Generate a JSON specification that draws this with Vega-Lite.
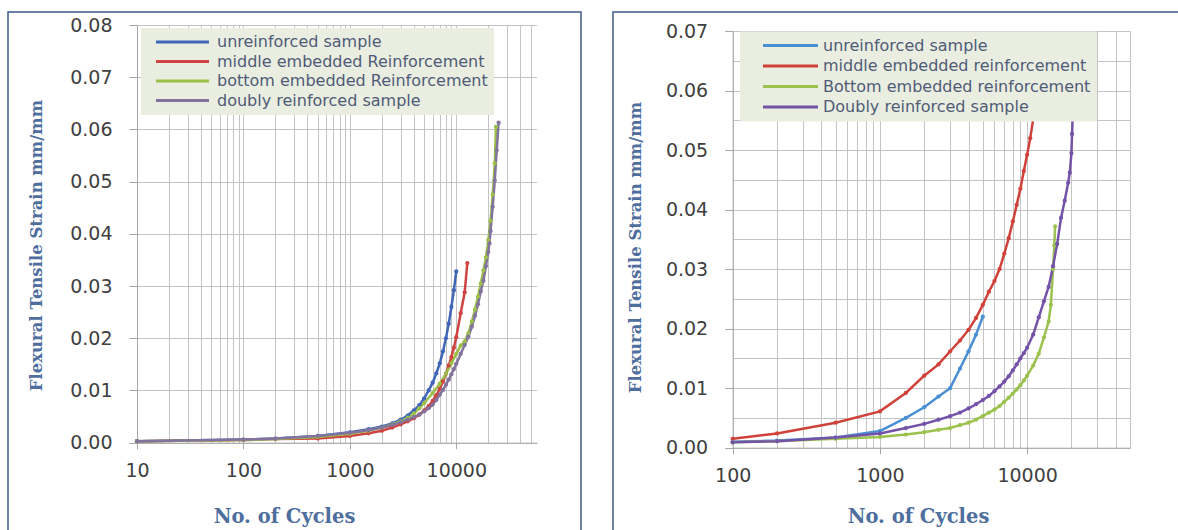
{
  "$schema": "https://vega.github.io/schema/vega-lite/v6.json",
  "autosize": {"type": "pad"},
  "padding": {"left": 7, "top": 11, "right": 0, "bottom": 0},
  "background": "white",
  "bounds": "flush",
  "spacing": 32,
  "config": {
    "view": {"stroke": "#3E5A8A", "strokeWidth": 1.5},
    "axis": {
      "labelFont": "DejaVu Sans", "labelFontSize": 19, "labelColor": "#404040",
      "titleFont": "DejaVu Serif", "titleFontSize": 18, "titleColor": "#4E6E9E", "titleFontWeight": "bold",
      "gridColor": "#C4C4C4", "gridWidth": 1, "domainColor": "#A6A6A6", "tickColor": "#A6A6A6",
      "labelOverlap": false, "labelFlush": false, "labelBound": false
    },
    "legend": {
      "title": null, "labelFont": "DejaVu Sans", "labelFontSize": 16, "labelColor": "#4F5B78",
      "fillColor": "#EAEEE0", "padding": 6, "rowPadding": 3.5, "symbolSize": 100, "symbolStrokeWidth": 3, "labelLimit": 400
    }
  },
  "resolve": {
    "scale": {"x": "independent", "y": "independent", "color": "independent"},
    "legend": {"color": "independent"}
  },
  "datasets": {
    "left": [
      {"series": "unreinforced sample", "n": 10, "s": 0.0003},
      {"series": "unreinforced sample", "n": 100, "s": 0.0006},
      {"series": "unreinforced sample", "n": 200, "s": 0.0008},
      {"series": "unreinforced sample", "n": 500, "s": 0.0013},
      {"series": "unreinforced sample", "n": 1000, "s": 0.0020},
      {"series": "unreinforced sample", "n": 1500, "s": 0.0026},
      {"series": "unreinforced sample", "n": 2000, "s": 0.0031},
      {"series": "unreinforced sample", "n": 2500, "s": 0.0037},
      {"series": "unreinforced sample", "n": 3000, "s": 0.0044},
      {"series": "unreinforced sample", "n": 3500, "s": 0.0052},
      {"series": "unreinforced sample", "n": 4000, "s": 0.0062},
      {"series": "unreinforced sample", "n": 4500, "s": 0.0072},
      {"series": "unreinforced sample", "n": 5000, "s": 0.0085},
      {"series": "unreinforced sample", "n": 5500, "s": 0.0100},
      {"series": "unreinforced sample", "n": 6000, "s": 0.0115},
      {"series": "unreinforced sample", "n": 6500, "s": 0.0133},
      {"series": "unreinforced sample", "n": 7000, "s": 0.0152},
      {"series": "unreinforced sample", "n": 7500, "s": 0.0175},
      {"series": "unreinforced sample", "n": 8000, "s": 0.0200},
      {"series": "unreinforced sample", "n": 8500, "s": 0.0228},
      {"series": "unreinforced sample", "n": 9000, "s": 0.0260},
      {"series": "unreinforced sample", "n": 9500, "s": 0.0292},
      {"series": "unreinforced sample", "n": 10000, "s": 0.0328},
      {"series": "middle embedded Reinforcement", "n": 10, "s": 0.0003},
      {"series": "middle embedded Reinforcement", "n": 100, "s": 0.0005},
      {"series": "middle embedded Reinforcement", "n": 200, "s": 0.0007},
      {"series": "middle embedded Reinforcement", "n": 500, "s": 0.0008},
      {"series": "middle embedded Reinforcement", "n": 1000, "s": 0.0013},
      {"series": "middle embedded Reinforcement", "n": 1500, "s": 0.0018},
      {"series": "middle embedded Reinforcement", "n": 2000, "s": 0.0023},
      {"series": "middle embedded Reinforcement", "n": 2500, "s": 0.0029},
      {"series": "middle embedded Reinforcement", "n": 3000, "s": 0.0035},
      {"series": "middle embedded Reinforcement", "n": 3500, "s": 0.0041},
      {"series": "middle embedded Reinforcement", "n": 4000, "s": 0.0047},
      {"series": "middle embedded Reinforcement", "n": 4500, "s": 0.0054},
      {"series": "middle embedded Reinforcement", "n": 5000, "s": 0.0062},
      {"series": "middle embedded Reinforcement", "n": 5500, "s": 0.0070},
      {"series": "middle embedded Reinforcement", "n": 6000, "s": 0.0080},
      {"series": "middle embedded Reinforcement", "n": 6500, "s": 0.0091},
      {"series": "middle embedded Reinforcement", "n": 7000, "s": 0.0103},
      {"series": "middle embedded Reinforcement", "n": 7500, "s": 0.0117},
      {"series": "middle embedded Reinforcement", "n": 8000, "s": 0.0132},
      {"series": "middle embedded Reinforcement", "n": 8500, "s": 0.0148},
      {"series": "middle embedded Reinforcement", "n": 9000, "s": 0.0164},
      {"series": "middle embedded Reinforcement", "n": 9500, "s": 0.0182},
      {"series": "middle embedded Reinforcement", "n": 10000, "s": 0.0202},
      {"series": "middle embedded Reinforcement", "n": 11000, "s": 0.0248},
      {"series": "middle embedded Reinforcement", "n": 12000, "s": 0.0288},
      {"series": "middle embedded Reinforcement", "n": 12700, "s": 0.0344},
      {"series": "bottom embedded Reinforcement", "n": 10, "s": 0.0003},
      {"series": "bottom embedded Reinforcement", "n": 100, "s": 0.0005},
      {"series": "bottom embedded Reinforcement", "n": 200, "s": 0.0007},
      {"series": "bottom embedded Reinforcement", "n": 500, "s": 0.0011},
      {"series": "bottom embedded Reinforcement", "n": 1000, "s": 0.0017},
      {"series": "bottom embedded Reinforcement", "n": 1500, "s": 0.0023},
      {"series": "bottom embedded Reinforcement", "n": 2000, "s": 0.0029},
      {"series": "bottom embedded Reinforcement", "n": 2500, "s": 0.0035},
      {"series": "bottom embedded Reinforcement", "n": 3000, "s": 0.0041},
      {"series": "bottom embedded Reinforcement", "n": 3500, "s": 0.0048},
      {"series": "bottom embedded Reinforcement", "n": 4000, "s": 0.0056},
      {"series": "bottom embedded Reinforcement", "n": 4500, "s": 0.0066},
      {"series": "bottom embedded Reinforcement", "n": 5000, "s": 0.0076},
      {"series": "bottom embedded Reinforcement", "n": 6000, "s": 0.0095},
      {"series": "bottom embedded Reinforcement", "n": 7000, "s": 0.0113},
      {"series": "bottom embedded Reinforcement", "n": 8000, "s": 0.0132},
      {"series": "bottom embedded Reinforcement", "n": 9000, "s": 0.0152},
      {"series": "bottom embedded Reinforcement", "n": 10000, "s": 0.0170},
      {"series": "bottom embedded Reinforcement", "n": 11000, "s": 0.0186},
      {"series": "bottom embedded Reinforcement", "n": 12000, "s": 0.0194},
      {"series": "bottom embedded Reinforcement", "n": 13000, "s": 0.0210},
      {"series": "bottom embedded Reinforcement", "n": 14000, "s": 0.0232},
      {"series": "bottom embedded Reinforcement", "n": 15000, "s": 0.0255},
      {"series": "bottom embedded Reinforcement", "n": 16000, "s": 0.0280},
      {"series": "bottom embedded Reinforcement", "n": 17000, "s": 0.0305},
      {"series": "bottom embedded Reinforcement", "n": 18000, "s": 0.0330},
      {"series": "bottom embedded Reinforcement", "n": 19000, "s": 0.0355},
      {"series": "bottom embedded Reinforcement", "n": 20000, "s": 0.0388},
      {"series": "bottom embedded Reinforcement", "n": 21000, "s": 0.0425},
      {"series": "bottom embedded Reinforcement", "n": 22000, "s": 0.0475},
      {"series": "bottom embedded Reinforcement", "n": 23000, "s": 0.0535},
      {"series": "bottom embedded Reinforcement", "n": 23600, "s": 0.0605},
      {"series": "doubly reinforced sample", "n": 10, "s": 0.0003},
      {"series": "doubly reinforced sample", "n": 100, "s": 0.0006},
      {"series": "doubly reinforced sample", "n": 200, "s": 0.0008},
      {"series": "doubly reinforced sample", "n": 500, "s": 0.0013},
      {"series": "doubly reinforced sample", "n": 1000, "s": 0.0019},
      {"series": "doubly reinforced sample", "n": 1500, "s": 0.0024},
      {"series": "doubly reinforced sample", "n": 2000, "s": 0.0029},
      {"series": "doubly reinforced sample", "n": 2500, "s": 0.0034},
      {"series": "doubly reinforced sample", "n": 3000, "s": 0.0039},
      {"series": "doubly reinforced sample", "n": 3500, "s": 0.0044},
      {"series": "doubly reinforced sample", "n": 4000, "s": 0.0049},
      {"series": "doubly reinforced sample", "n": 4500, "s": 0.0054},
      {"series": "doubly reinforced sample", "n": 5000, "s": 0.0060},
      {"series": "doubly reinforced sample", "n": 5500, "s": 0.0066},
      {"series": "doubly reinforced sample", "n": 6000, "s": 0.0073},
      {"series": "doubly reinforced sample", "n": 6500, "s": 0.0082},
      {"series": "doubly reinforced sample", "n": 7000, "s": 0.0092},
      {"series": "doubly reinforced sample", "n": 7500, "s": 0.0101},
      {"series": "doubly reinforced sample", "n": 8000, "s": 0.0111},
      {"series": "doubly reinforced sample", "n": 8500, "s": 0.0121},
      {"series": "doubly reinforced sample", "n": 9000, "s": 0.0131},
      {"series": "doubly reinforced sample", "n": 9500, "s": 0.0141},
      {"series": "doubly reinforced sample", "n": 10000, "s": 0.0151},
      {"series": "doubly reinforced sample", "n": 11000, "s": 0.0170},
      {"series": "doubly reinforced sample", "n": 12000, "s": 0.0187},
      {"series": "doubly reinforced sample", "n": 13000, "s": 0.0203},
      {"series": "doubly reinforced sample", "n": 14000, "s": 0.0222},
      {"series": "doubly reinforced sample", "n": 15000, "s": 0.0243},
      {"series": "doubly reinforced sample", "n": 16000, "s": 0.0265},
      {"series": "doubly reinforced sample", "n": 17000, "s": 0.0290},
      {"series": "doubly reinforced sample", "n": 18000, "s": 0.0310},
      {"series": "doubly reinforced sample", "n": 19000, "s": 0.0338},
      {"series": "doubly reinforced sample", "n": 20000, "s": 0.0365},
      {"series": "doubly reinforced sample", "n": 20500, "s": 0.0382},
      {"series": "doubly reinforced sample", "n": 21000, "s": 0.0405},
      {"series": "doubly reinforced sample", "n": 22000, "s": 0.0452},
      {"series": "doubly reinforced sample", "n": 23000, "s": 0.0502},
      {"series": "doubly reinforced sample", "n": 24000, "s": 0.0560},
      {"series": "doubly reinforced sample", "n": 25000, "s": 0.0613}
    ],
    "right": [
      {"series": "unreinforced sample", "n": 100, "s": 0.0010},
      {"series": "unreinforced sample", "n": 200, "s": 0.0012},
      {"series": "unreinforced sample", "n": 500, "s": 0.0017},
      {"series": "unreinforced sample", "n": 1000, "s": 0.0028},
      {"series": "unreinforced sample", "n": 1500, "s": 0.0050},
      {"series": "unreinforced sample", "n": 2000, "s": 0.0068},
      {"series": "unreinforced sample", "n": 2500, "s": 0.0086},
      {"series": "unreinforced sample", "n": 3000, "s": 0.0100},
      {"series": "unreinforced sample", "n": 3500, "s": 0.0133},
      {"series": "unreinforced sample", "n": 4000, "s": 0.0162},
      {"series": "unreinforced sample", "n": 4500, "s": 0.0190},
      {"series": "unreinforced sample", "n": 5000, "s": 0.0220},
      {"series": "middle embedded reinforcement", "n": 100, "s": 0.0015},
      {"series": "middle embedded reinforcement", "n": 200, "s": 0.0024},
      {"series": "middle embedded reinforcement", "n": 500, "s": 0.0042},
      {"series": "middle embedded reinforcement", "n": 1000, "s": 0.0061},
      {"series": "middle embedded reinforcement", "n": 1500, "s": 0.0092},
      {"series": "middle embedded reinforcement", "n": 2000, "s": 0.0121},
      {"series": "middle embedded reinforcement", "n": 2500, "s": 0.0140},
      {"series": "middle embedded reinforcement", "n": 3000, "s": 0.0162},
      {"series": "middle embedded reinforcement", "n": 3500, "s": 0.0180},
      {"series": "middle embedded reinforcement", "n": 4000, "s": 0.0198},
      {"series": "middle embedded reinforcement", "n": 4500, "s": 0.0218},
      {"series": "middle embedded reinforcement", "n": 5000, "s": 0.0240},
      {"series": "middle embedded reinforcement", "n": 5500, "s": 0.0262},
      {"series": "middle embedded reinforcement", "n": 6000, "s": 0.0280},
      {"series": "middle embedded reinforcement", "n": 6500, "s": 0.0300},
      {"series": "middle embedded reinforcement", "n": 7000, "s": 0.0326},
      {"series": "middle embedded reinforcement", "n": 7500, "s": 0.0352},
      {"series": "middle embedded reinforcement", "n": 8000, "s": 0.0380},
      {"series": "middle embedded reinforcement", "n": 8500, "s": 0.0408},
      {"series": "middle embedded reinforcement", "n": 9000, "s": 0.0435},
      {"series": "middle embedded reinforcement", "n": 9500, "s": 0.0465},
      {"series": "middle embedded reinforcement", "n": 10000, "s": 0.0492},
      {"series": "middle embedded reinforcement", "n": 10500, "s": 0.0520},
      {"series": "middle embedded reinforcement", "n": 11000, "s": 0.0552},
      {"series": "Bottom embedded reinforcement", "n": 100, "s": 0.0009},
      {"series": "Bottom embedded reinforcement", "n": 200, "s": 0.0011},
      {"series": "Bottom embedded reinforcement", "n": 500, "s": 0.0015},
      {"series": "Bottom embedded reinforcement", "n": 1000, "s": 0.0018},
      {"series": "Bottom embedded reinforcement", "n": 1500, "s": 0.0022},
      {"series": "Bottom embedded reinforcement", "n": 2000, "s": 0.0026},
      {"series": "Bottom embedded reinforcement", "n": 2500, "s": 0.0030},
      {"series": "Bottom embedded reinforcement", "n": 3000, "s": 0.0033},
      {"series": "Bottom embedded reinforcement", "n": 3500, "s": 0.0038},
      {"series": "Bottom embedded reinforcement", "n": 4000, "s": 0.0042},
      {"series": "Bottom embedded reinforcement", "n": 4500, "s": 0.0047},
      {"series": "Bottom embedded reinforcement", "n": 5000, "s": 0.0053},
      {"series": "Bottom embedded reinforcement", "n": 5500, "s": 0.0059},
      {"series": "Bottom embedded reinforcement", "n": 6000, "s": 0.0064},
      {"series": "Bottom embedded reinforcement", "n": 6500, "s": 0.0070},
      {"series": "Bottom embedded reinforcement", "n": 7000, "s": 0.0077},
      {"series": "Bottom embedded reinforcement", "n": 7500, "s": 0.0084},
      {"series": "Bottom embedded reinforcement", "n": 8000, "s": 0.0091},
      {"series": "Bottom embedded reinforcement", "n": 8500, "s": 0.0098},
      {"series": "Bottom embedded reinforcement", "n": 9000, "s": 0.0105},
      {"series": "Bottom embedded reinforcement", "n": 9500, "s": 0.0113},
      {"series": "Bottom embedded reinforcement", "n": 10000, "s": 0.0121},
      {"series": "Bottom embedded reinforcement", "n": 11000, "s": 0.0138},
      {"series": "Bottom embedded reinforcement", "n": 12000, "s": 0.0158},
      {"series": "Bottom embedded reinforcement", "n": 13000, "s": 0.0185},
      {"series": "Bottom embedded reinforcement", "n": 14000, "s": 0.0212},
      {"series": "Bottom embedded reinforcement", "n": 14500, "s": 0.0240},
      {"series": "Bottom embedded reinforcement", "n": 15000, "s": 0.0300},
      {"series": "Bottom embedded reinforcement", "n": 15300, "s": 0.0340},
      {"series": "Bottom embedded reinforcement", "n": 15500, "s": 0.0372},
      {"series": "Doubly reinforced sample", "n": 100, "s": 0.0009},
      {"series": "Doubly reinforced sample", "n": 200, "s": 0.0011},
      {"series": "Doubly reinforced sample", "n": 500, "s": 0.0017},
      {"series": "Doubly reinforced sample", "n": 1000, "s": 0.0024},
      {"series": "Doubly reinforced sample", "n": 1500, "s": 0.0033},
      {"series": "Doubly reinforced sample", "n": 2000, "s": 0.0040},
      {"series": "Doubly reinforced sample", "n": 2500, "s": 0.0047},
      {"series": "Doubly reinforced sample", "n": 3000, "s": 0.0053},
      {"series": "Doubly reinforced sample", "n": 3500, "s": 0.0059},
      {"series": "Doubly reinforced sample", "n": 4000, "s": 0.0066},
      {"series": "Doubly reinforced sample", "n": 4500, "s": 0.0073},
      {"series": "Doubly reinforced sample", "n": 5000, "s": 0.0080},
      {"series": "Doubly reinforced sample", "n": 5500, "s": 0.0087},
      {"series": "Doubly reinforced sample", "n": 6000, "s": 0.0095},
      {"series": "Doubly reinforced sample", "n": 6500, "s": 0.0103},
      {"series": "Doubly reinforced sample", "n": 7000, "s": 0.0111},
      {"series": "Doubly reinforced sample", "n": 7500, "s": 0.0120},
      {"series": "Doubly reinforced sample", "n": 8000, "s": 0.0130},
      {"series": "Doubly reinforced sample", "n": 8500, "s": 0.0140},
      {"series": "Doubly reinforced sample", "n": 9000, "s": 0.0150},
      {"series": "Doubly reinforced sample", "n": 9500, "s": 0.0159},
      {"series": "Doubly reinforced sample", "n": 10000, "s": 0.0168},
      {"series": "Doubly reinforced sample", "n": 11000, "s": 0.0190},
      {"series": "Doubly reinforced sample", "n": 12000, "s": 0.0219},
      {"series": "Doubly reinforced sample", "n": 13000, "s": 0.0246},
      {"series": "Doubly reinforced sample", "n": 14000, "s": 0.0270},
      {"series": "Doubly reinforced sample", "n": 15000, "s": 0.0305},
      {"series": "Doubly reinforced sample", "n": 16000, "s": 0.0342},
      {"series": "Doubly reinforced sample", "n": 17000, "s": 0.0386},
      {"series": "Doubly reinforced sample", "n": 18000, "s": 0.0415},
      {"series": "Doubly reinforced sample", "n": 19000, "s": 0.0445},
      {"series": "Doubly reinforced sample", "n": 19500, "s": 0.0462},
      {"series": "Doubly reinforced sample", "n": 20000, "s": 0.0495},
      {"series": "Doubly reinforced sample", "n": 20200, "s": 0.0527},
      {"series": "Doubly reinforced sample", "n": 20400, "s": 0.0556}
    ]
  },
  "hconcat": [
    {
      "width": 573,
      "height": 519,
      "data": {"name": "left"},
      "encoding": {
        "y": {
          "field": "s", "type": "quantitative",
          "scale": {"domain": [0, 0.08], "range": [430.7, 13], "nice": false, "zero": false},
          "axis": {
            "orient": "left", "grid": true,
            "title": "Flexural Tensile Strain mm/mm",
            "values": [0, 0.01, 0.02, 0.03, 0.04, 0.05, 0.06, 0.07, 0.08],
            "format": ".2f",
            "offset": -129,
            "tickSize": 8,
            "labelPadding": 17,
            "titleFontSize": 16.5,
            "titleX": -101, "titleY": 233, "titleBaseline": "middle", "titleAlign": "center", "titleAngle": 270
          }
        },
        "color": {
          "field": "series", "type": "nominal",
          "scale": {
            "domain": ["unreinforced sample", "middle embedded Reinforcement", "bottom embedded Reinforcement", "doubly reinforced sample"],
            "range": ["#3F66B8", "#CF4440", "#9CBF4A", "#82739E"]
          },
          "legend": {
            "orient": "none", "legendX": 133, "legendY": 16,
            "symbolType": "M0.2,0H10.8", "labelOffset": 54
          }
        }
      },
      "layer": [
        {
          "mark": {"type": "line", "strokeWidth": 2.5},
          "encoding": {
            "x": {
              "field": "n", "type": "quantitative",
              "scale": {"type": "log", "domain": [10, 57000], "range": [129, 528.7], "nice": false},
              "axis": {
                "orient": "top", "grid": true, "labels": false, "ticks": false, "domain": false, "title": null,
                "values": [10,20,30,40,50,60,70,80,90,100,200,300,400,500,600,700,800,900,1000,2000,3000,4000,5000,6000,7000,8000,9000,10000,20000,30000,40000,50000]
              }
            }
          }
        },
        {
          "mark": {"type": "point", "filled": true, "size": 18, "opacity": 1},
          "encoding": {
            "x": {
              "field": "n", "type": "quantitative",
              "axis": {
                "orient": "bottom", "grid": false,
                "title": "No. of Cycles",
                "values": [10,20,30,40,50,60,70,80,90,100,200,300,400,500,600,700,800,900,1000,2000,3000,4000,5000,6000,7000,8000,9000,10000,20000,30000,40000,50000],
                "labelExpr": "indexof([10,100,1000,10000], datum.value) >= 0 ? format(datum.value, 'd') : ''",
                "offset": -88.3,
                "tickSize": 6,
                "tickOpacity": {"condition": {"test": "indexof([10,100,1000,10000], datum.value) >= 0", "value": 1}, "value": 0},
                "labelPadding": 13,
                "titleFontSize": 19.5,
                "titleX": 276, "titleY": 74, "titleBaseline": "middle", "titleAlign": "center"
              }
            }
          }
        }
      ],
      "resolve": {"axis": {"x": "independent"}}
    },
    {
      "width": 566,
      "height": 519,
      "data": {"name": "right"},
      "encoding": {
        "y": {
          "field": "s", "type": "quantitative",
          "scale": {"domain": [0, 0.07], "range": [435.7, 19], "nice": false, "zero": false},
          "axis": {
            "orient": "left", "grid": true,
            "title": "Flexural Tensile Strain mm/mm",
            "values": [0, 0.005, 0.01, 0.015, 0.02, 0.025, 0.03, 0.035, 0.04, 0.045, 0.05, 0.055, 0.06, 0.065, 0.07],
            "labelExpr": "round(datum.value * 1000) % 10 == 0 ? format(datum.value, '.2f') : ''",
            "tickOpacity": {"condition": {"test": "round(datum.value * 1000) % 10 == 0", "value": 1}, "value": 0},
            "offset": -119.7,
            "tickSize": 8,
            "labelPadding": 17,
            "titleFontSize": 16.5,
            "titleX": -97, "titleY": 235, "titleBaseline": "middle", "titleAlign": "center", "titleAngle": 270
          }
        },
        "color": {
          "field": "series", "type": "nominal",
          "scale": {
            "domain": ["unreinforced sample", "middle embedded reinforcement", "Bottom embedded reinforcement", "Doubly reinforced sample"],
            "range": ["#4A8FD4", "#D0413A", "#9BC24E", "#7452A8"]
          },
          "legend": {
            "orient": "none", "legendX": 127, "legendY": 19.5,
            "symbolType": "M1.8,0H12.8", "labelOffset": 61, "rowPadding": 4.5
          }
        }
      },
      "layer": [
        {
          "mark": {"type": "line", "strokeWidth": 2.5},
          "encoding": {
            "x": {
              "field": "n", "type": "quantitative",
              "scale": {"type": "log", "domain": [100, 50000], "range": [119.7, 517], "nice": false},
              "axis": {
                "orient": "top", "grid": true, "labels": false, "ticks": false, "domain": false, "title": null,
                "values": [100,200,300,400,500,600,700,800,900,1000,2000,3000,4000,5000,6000,7000,8000,9000,10000,20000,30000,40000,50000]
              }
            }
          }
        },
        {
          "mark": {"type": "point", "filled": true, "size": 18, "opacity": 1},
          "encoding": {
            "x": {
              "field": "n", "type": "quantitative",
              "axis": {
                "orient": "bottom", "grid": false,
                "title": "No. of Cycles",
                "values": [100,200,300,400,500,600,700,800,900,1000,2000,3000,4000,5000,6000,7000,8000,9000,10000,20000,30000,40000,50000],
                "labelExpr": "indexof([100,1000,10000], datum.value) >= 0 ? format(datum.value, 'd') : ''",
                "offset": -83.3,
                "tickSize": 6,
                "tickOpacity": {"condition": {"test": "indexof([100,1000,10000], datum.value) >= 0", "value": 1}, "value": 0},
                "labelPadding": 13,
                "titleFontSize": 19.5,
                "titleX": 305, "titleY": 69, "titleBaseline": "middle", "titleAlign": "center"
              }
            }
          }
        }
      ],
      "resolve": {"axis": {"x": "independent"}}
    }
  ]
}
